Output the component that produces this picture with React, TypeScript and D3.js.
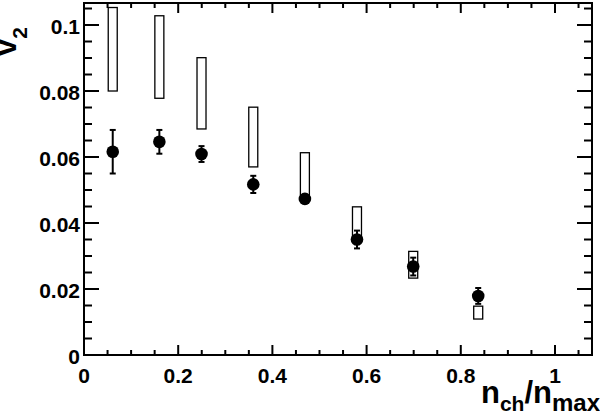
import React from "react";
import * as d3 from "d3";

const nchRatio = [0.061, 0.16, 0.2495, 0.3594, 0.469, 0.5796, 0.699, 0.837];
const v2 = [0.0616, 0.0646, 0.0609, 0.0517, 0.0473, 0.035, 0.0268, 0.0179];
const statErr = [0.0066, 0.0036, 0.0024, 0.0026, 0.0012, 0.0027, 0.0027, 0.0024];
const sysHigh = [0.1053, 0.1028, 0.0901, 0.0751, 0.0613, 0.0449, 0.0314, 0.0148];
const sysLow = [0.08, 0.0778, 0.0685, 0.057, 0.048, 0.036, 0.0233, 0.0109];

const xMajorTicks = [0, 0.2, 0.4, 0.6, 0.8, 1];
const xTickLabels = ["0", "0.2", "0.4", "0.6", "0.8", "1"];
const yMajorTicks = [0, 0.02, 0.04, 0.06, 0.08, 0.1];
const yTickLabels = ["0", "0.02", "0.04", "0.06", "0.08", "0.1"];

const W = 600;
const H = 415;
const L = 84, R = 592, T = 3, B = 355;
const FONT = "'Liberation Sans', Arial, Helvetica, sans-serif";

export default function App() {
  const x = d3.scaleLinear().domain([0, 1.0786]).range([L, R]);
  const y = d3.scaleLinear().domain([0, 0.10667]).range([B, T]);
  const xMinor = d3.range(0, 1.0786, 0.05).filter((t) => !xMajorTicks.some((m) => Math.abs(m - t) < 1e-6));
  const yMinor = d3.range(0, 0.1066, 0.005).filter((t) => !yMajorTicks.some((m) => Math.abs(m - t) < 1e-6));

  return (
    <svg width={W} height={H} style={{ position: "absolute", left: 0, top: 0, background: "#fff" }} fontFamily={FONT}>
      <rect x={0} y={0} width={W} height={H} fill="#fff" />
      {/* systematic boxes */}
      {nchRatio.map((n, i) => (
        <rect key={"b" + i} x={x(n) - 4.5} y={y(sysHigh[i])} width={9} height={y(sysLow[i]) - y(sysHigh[i])}
          fill="none" stroke="#000" strokeWidth={1.3} />
      ))}
      {/* stat error bars and points */}
      {nchRatio.map((n, i) => {
        const cx = x(n);
        const yt = y(v2[i] + statErr[i]);
        const yb = y(v2[i] - statErr[i]);
        return (
          <g key={"p" + i}>
            <line x1={cx} x2={cx} y1={yt} y2={yb} stroke="#000" strokeWidth={2} />
            <line x1={cx - 3} x2={cx + 3} y1={yt} y2={yt} stroke="#000" strokeWidth={2} />
            <line x1={cx - 3} x2={cx + 3} y1={yb} y2={yb} stroke="#000" strokeWidth={2} />
            <circle cx={cx} cy={y(v2[i])} r={6.3} fill="#000" />
          </g>
        );
      })}
      {/* frame */}
      <rect x={L} y={T} width={R - L} height={B - T} fill="none" stroke="#000" strokeWidth={2} />
      {/* x ticks */}
      {xMajorTicks.map((t) => (
        <g key={"xm" + t}>
          <line x1={x(t)} x2={x(t)} y1={B} y2={B - 10} stroke="#000" strokeWidth={2} />
          <line x1={x(t)} x2={x(t)} y1={T} y2={T + 10} stroke="#000" strokeWidth={2} />
        </g>
      ))}
      {xMinor.map((t) => (
        <g key={"xn" + t}>
          <line x1={x(t)} x2={x(t)} y1={B} y2={B - 5} stroke="#000" strokeWidth={2} />
          <line x1={x(t)} x2={x(t)} y1={T} y2={T + 5} stroke="#000" strokeWidth={2} />
        </g>
      ))}
      {/* y ticks */}
      {yMajorTicks.map((t) => (
        <g key={"ym" + t}>
          <line x1={L} x2={L + 15} y1={y(t)} y2={y(t)} stroke="#000" strokeWidth={2} />
          <line x1={R} x2={R - 15} y1={y(t)} y2={y(t)} stroke="#000" strokeWidth={2} />
        </g>
      ))}
      {yMinor.map((t) => (
        <g key={"yn" + t}>
          <line x1={L} x2={L + 8} y1={y(t)} y2={y(t)} stroke="#000" strokeWidth={2} />
          <line x1={R} x2={R - 8} y1={y(t)} y2={y(t)} stroke="#000" strokeWidth={2} />
        </g>
      ))}
      {/* tick labels */}
      {xMajorTicks.map((t, i) => (
        <text key={"xl" + t} x={x(t)} y={382.5} textAnchor="middle" fontSize={21} fontWeight="bold">{xTickLabels[i]}</text>
      ))}
      {yMajorTicks.map((t, i) => (
        <text key={"yl" + t} x={80} y={y(t) + 9} textAnchor="end" fontSize={21} fontWeight="bold">{yTickLabels[i]}</text>
      ))}
      {/* axis titles */}
      <text x={600} y={403} textAnchor="end" fontWeight="bold" fontSize={31}>
        n<tspan fontSize={21} dy={8}>ch</tspan><tspan dy={-8}>/n</tspan><tspan fontSize={24} dy={8}>max</tspan>
      </text>
      <text transform="translate(16,27) rotate(-90)" textAnchor="end" fontWeight="bold" fontSize={31}>
        v<tspan fontSize={21} dy={11}>2</tspan>
      </text>
    </svg>
  );
}
